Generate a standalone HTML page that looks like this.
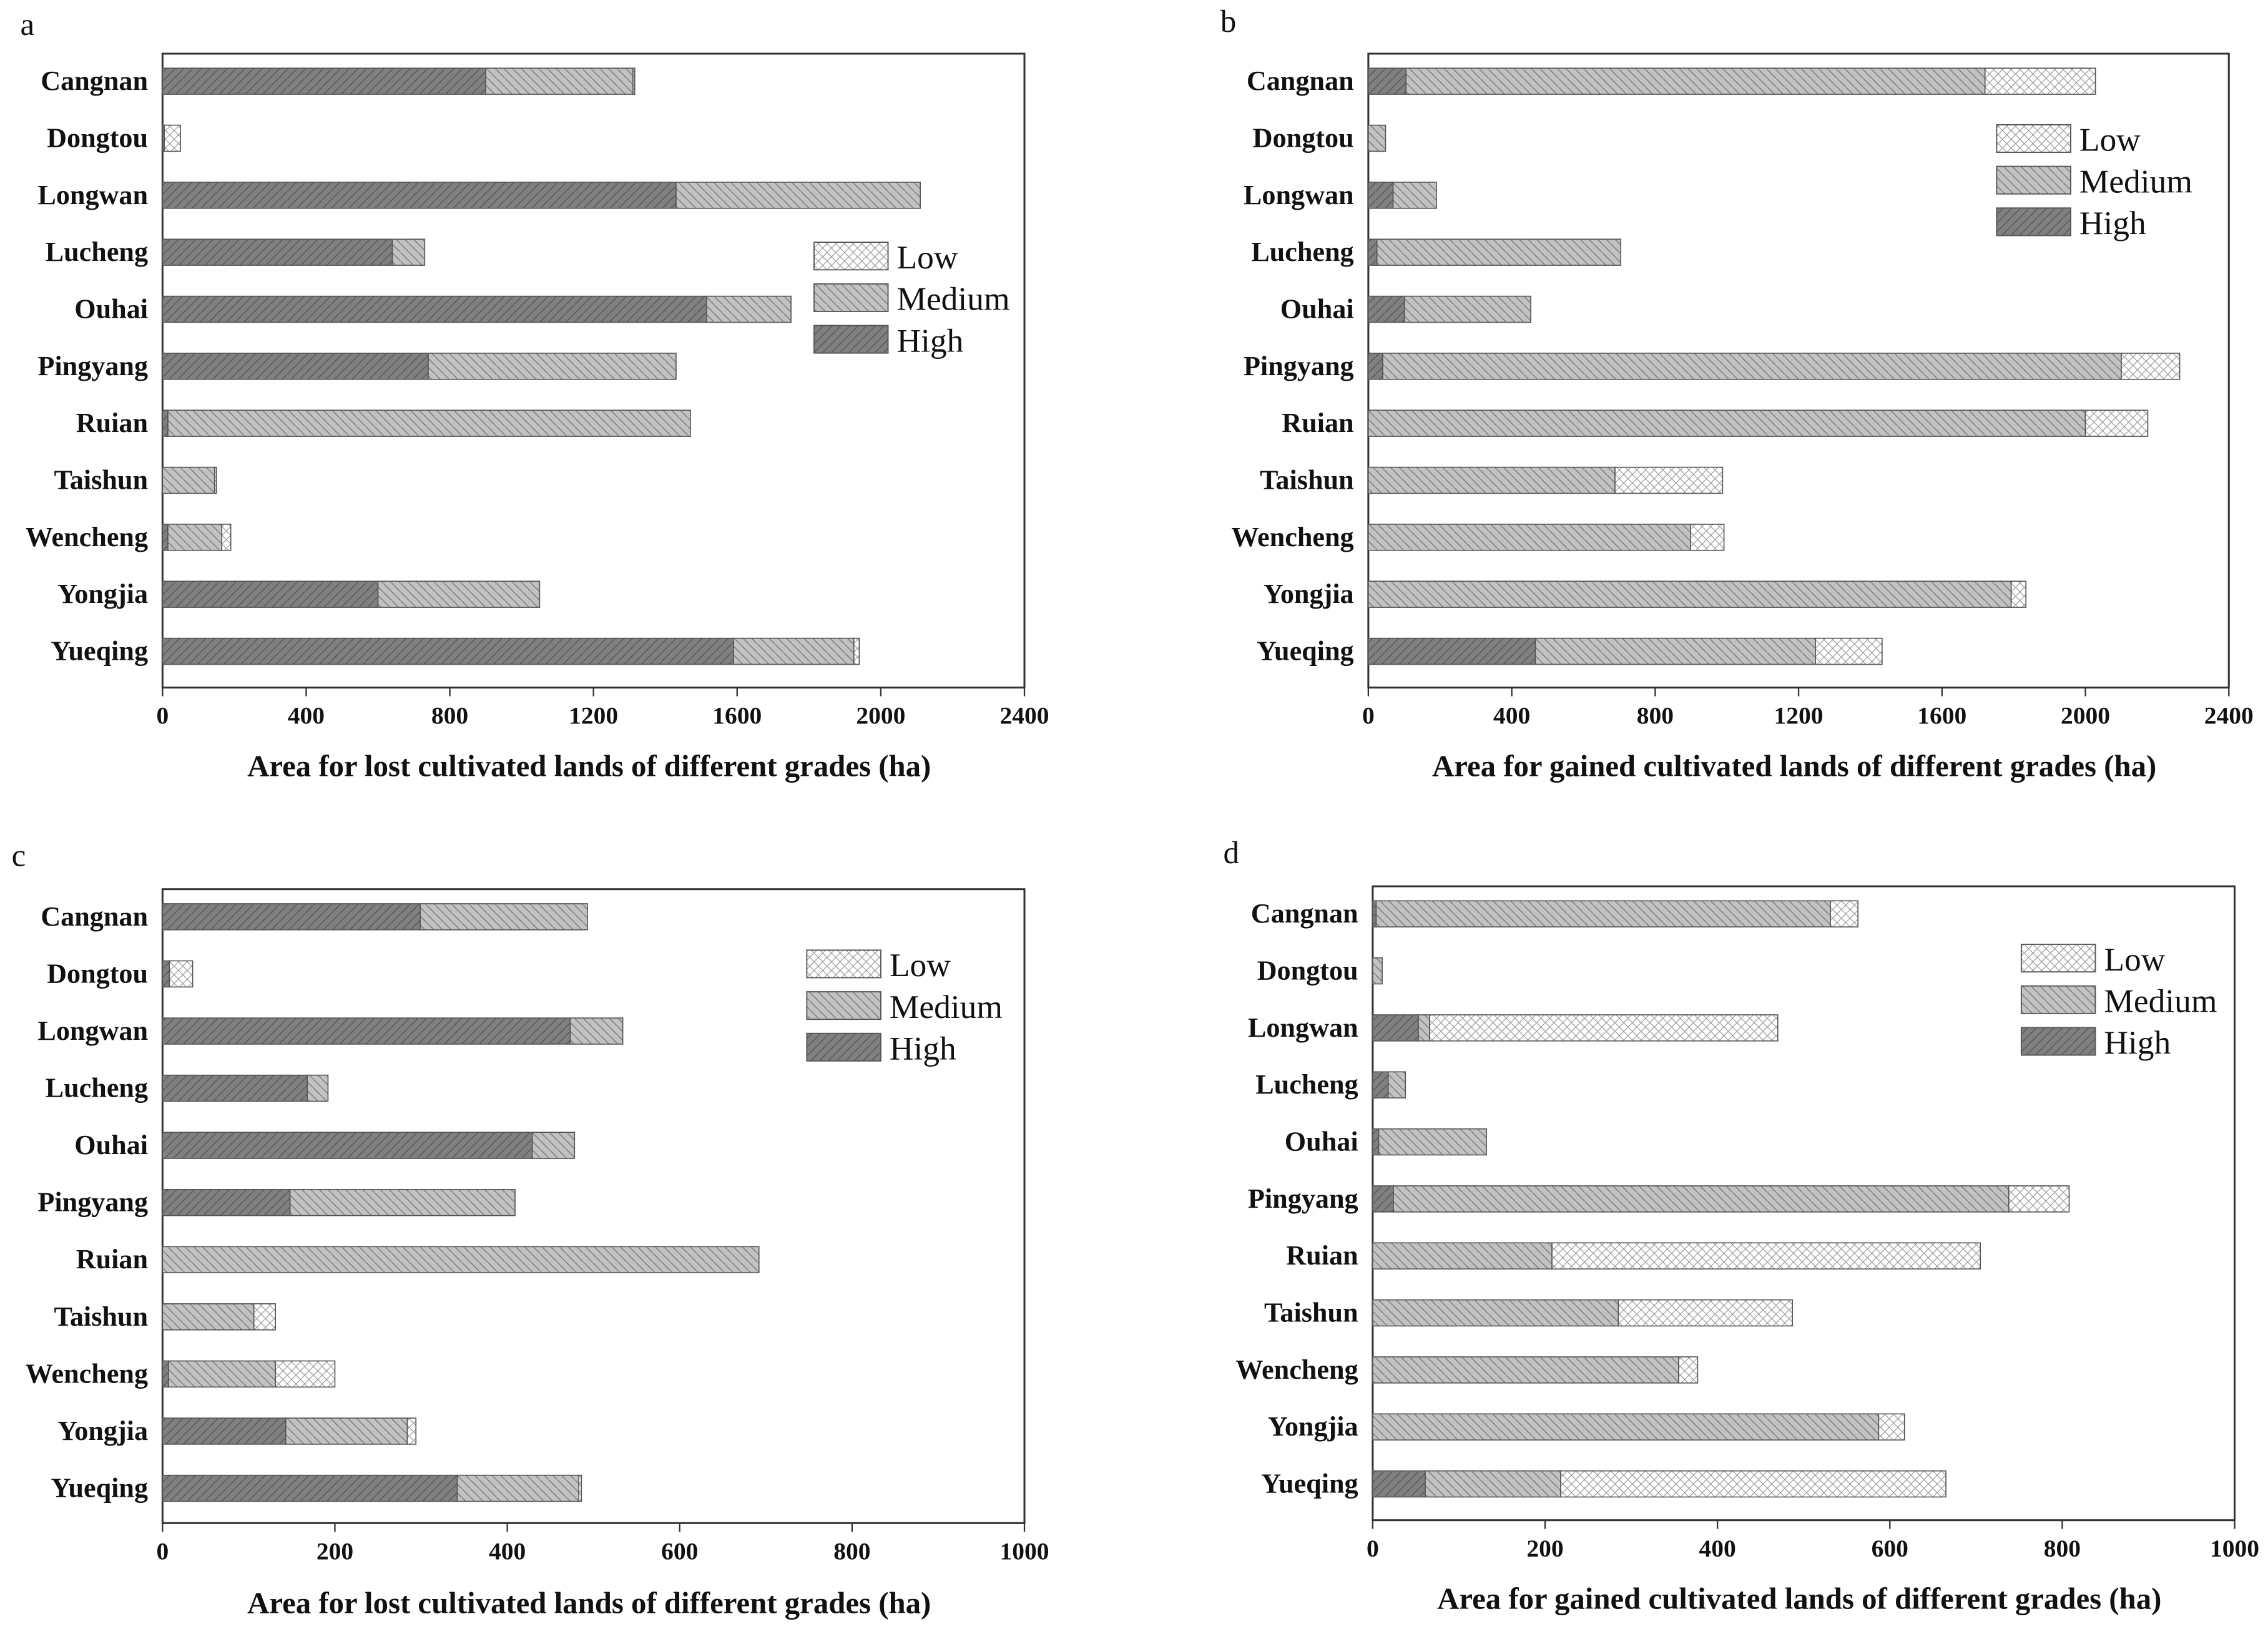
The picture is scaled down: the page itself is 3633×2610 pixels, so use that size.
<!DOCTYPE html>
<html><head><meta charset="utf-8"><style>
html,body{margin:0;padding:0;background:#fff;}
svg{display:block;}
text{font-family:"Liberation Serif",serif;fill:#111;}
</style></head><body>
<svg id="fig" xmlns="http://www.w3.org/2000/svg" width="3633" height="2610" viewBox="0 0 1563 1123" preserveAspectRatio="none">
<defs>
<pattern id="pHigh" patternUnits="userSpaceOnUse" width="6" height="6"><rect width="6" height="6" fill="#808080"/><path d="M-1,7 L7,-1" stroke="#555" stroke-width="0.6"/></pattern>
<pattern id="pMed" patternUnits="userSpaceOnUse" width="6" height="6"><rect width="6" height="6" fill="#c2c2c2"/><path d="M-1,-1 L7,7" stroke="#777" stroke-width="0.6"/></pattern>
<pattern id="pLow" patternUnits="userSpaceOnUse" width="6" height="6"><rect width="6" height="6" fill="#fff"/><path d="M0,0 L6,6 M6,0 L0,6" stroke="#999" stroke-width="0.5"/></pattern>
</defs>
</svg>
<script>
const categories=["Cangnan","Dongtou","Longwan","Lucheng","Ouhai","Pingyang","Ruian","Taishun","Wencheng","Yongjia","Yueqing"];
const aHigh=[900,5,1430,640,1515,740,15,0,15,600,1590];
const aMed=[410,0,680,90,235,690,1455,145,150,450,335];
const aLow=[5,45,0,0,0,0,0,5,25,0,15];
const bHigh=[105,0,69,24,101,40,0,0,0,0,466];
const bMed=[1615,48,121,680,352,2060,2000,688,899,1793,781];
const bLow=[308,0,0,0,0,163,174,300,93,41,186];
const cHigh=[299,8,473,168,429,148,0,0,7,143,342];
const cMed=[194,0,61,24,49,261,692,106,124,141,141];
const cLow=[0,27,0,0,0,0,0,25,69,10,3];
const dHigh=[4,0,53,18,7,24,0,0,0,0,61];
const dMed=[527,11,13,20,125,714,208,285,355,587,157];
const dLow=[32,0,404,0,0,70,497,202,22,30,447];
const ticksA=[0,400,800,1200,1600,2000,2400];
const ticksC=[0,200,400,600,800,1000];
const titleLost="Area for lost cultivated lands of different grades (ha)";
const titleGain="Area for gained cultivated lands of different grades (ha)";

const NS="http://www.w3.org/2000/svg";
const svg=document.getElementById('fig');
function mk(tag,attrs,parent){const e=document.createElementNS(NS,tag);for(const k in attrs)e.setAttribute(k,attrs[k]);(parent||svg).appendChild(e);return e;}

const panels=[
 {id:'a',L:112,R:706,T:37,B:474,y0:56,y1:449,max:2400,ticks:ticksA,hi:aHigh,me:aMed,lo:aLow,title:titleLost,lx:14,ly:24,leg:[561,167],titleY:535},
 {id:'b',L:943,R:1536,T:37,B:474,y0:56,y1:449,max:2400,ticks:ticksA,hi:bHigh,me:bMed,lo:bLow,title:titleGain,lx:841,ly:22,leg:[1376,86],titleY:535},
 {id:'c',L:112,R:706,T:613,B:1050,y0:632,y1:1026,max:1000,ticks:ticksC,hi:cHigh,me:cMed,lo:cLow,title:titleLost,lx:8,ly:597,leg:[556,655],titleY:1112},
 {id:'d',L:946,R:1540,T:611,B:1048,y0:630,y1:1023,max:1000,ticks:ticksC,hi:dHigh,me:dMed,lo:dLow,title:titleGain,lx:843,ly:595,leg:[1393,651],titleY:1109}
];

panels.forEach(p=>{
 const g=mk('g',{});
 
 
 const xs=v=>p.L+(v/p.max)*(p.R-p.L);
 const ys=i=>p.y0+i*(p.y1-p.y0)/(categories.length-1);
 const letter=mk('text',{x:p.lx,y:p.ly,'font-size':22},g);
 letter.textContent=p.id;
 
 
 const frame=mk('rect',{x:p.L,y:p.T,width:p.R-p.L,height:p.B-p.T,fill:'none',stroke:'#333','stroke-width':1.3},g);
 
 
 categories.forEach((c,i)=>{
  const yc=ys(i);
  const t=mk('text',{x:p.L-10,y:yc+6,'font-size':19,'font-weight':'bold','text-anchor':'end'},g);
  t.textContent=c;
  
  
  let acc=0;
  [[p.hi[i],'pHigh','high'],[p.me[i],'pMed','medium'],[p.lo[i],'pLow','low']].forEach(([v,pat,nm])=>{
   if(v<=0)return;
   const r=mk('rect',{x:xs(acc),y:yc-9,width:xs(acc+v)-xs(acc),height:18,fill:'url(#'+pat+')',stroke:'#555','stroke-width':0.7},g);
   
   
   acc+=v;
  });
 });
 p.ticks.forEach(tv=>{
  const x=xs(tv);
  mk('line',{x1:x,x2:x,y1:p.B,y2:p.B+6,stroke:'#333','stroke-width':1},g);
  const t=mk('text',{x:x,y:p.B+25,'font-size':17,'font-weight':'bold','text-anchor':'middle'},g);
  t.textContent=tv;
  
  
 });
 const xt=mk('text',{x:(p.L+p.R)/2-3,y:p.titleY,'font-size':21,'font-weight':'bold','text-anchor':'middle'},g);
 xt.textContent=p.title;
 
 
 const lg=mk('g',{},g);
 
 
 [['Low','pLow'],['Medium','pMed'],['High','pHigh']].forEach(([nm,pat],k)=>{
  const y=p.leg[1]+k*28.7;
  const r=mk('rect',{x:p.leg[0],y:y,width:51,height:19,fill:'url(#'+pat+')',stroke:'#555','stroke-width':0.8},lg);
  
  
  const t=mk('text',{x:p.leg[0]+57,y:y+18,'font-size':23},lg);
  t.textContent=nm;
  
  
 });
});
</script>
</body></html>
